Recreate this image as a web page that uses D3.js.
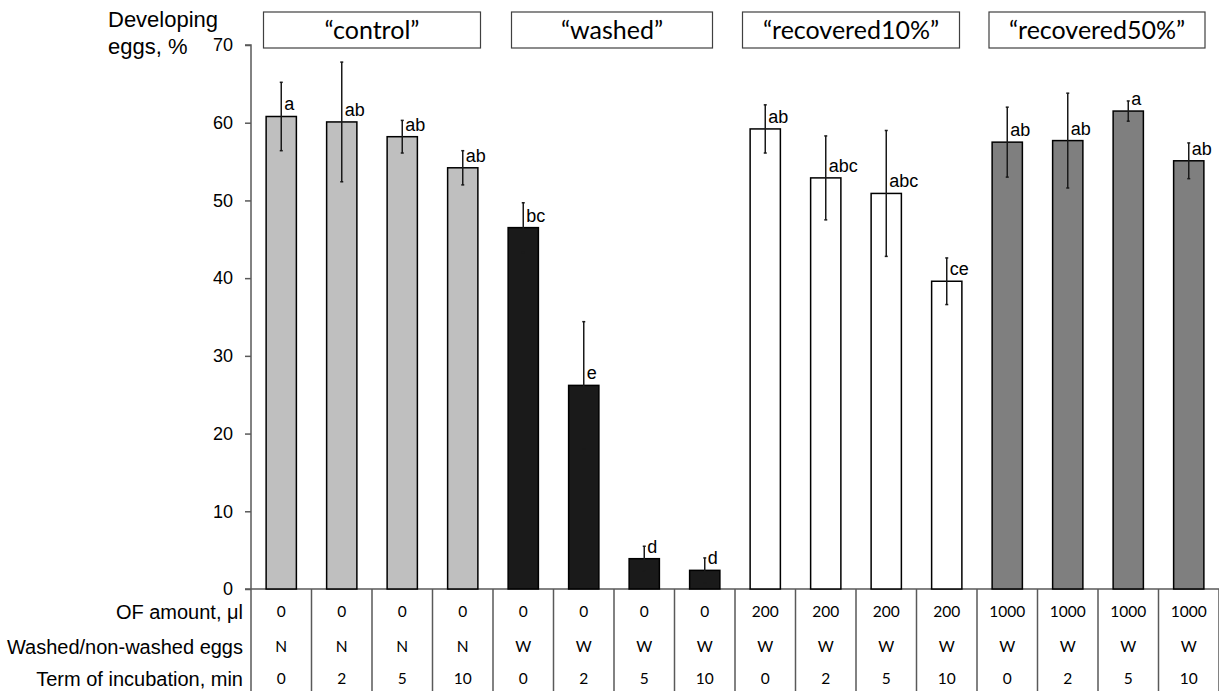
<!DOCTYPE html>
<html><head><meta charset="utf-8">
<script src="https://cdn.jsdelivr.net/npm/d3@7"></script>
<style>body{margin:0;background:#fff}svg{display:block}</style>
</head><body>
<svg id="chart" width="1219" height="691"></svg>
<script>
// ---- data ----
const groups = ["\u201Ccontrol\u201D", "\u201Cwashed\u201D", "\u201Crecovered10%\u201D", "\u201Crecovered50%\u201D"];
const groupOfBar = [0,0,0,0, 1,1,1,1, 2,2,2,2, 3,3,3,3];
const values = [60.8, 60.1, 58.2, 54.2, 46.5, 26.2, 3.9, 2.4, 59.2, 52.9, 50.9, 39.6, 57.5, 57.7, 61.5, 55.1];
const errors = [4.4, 7.7, 2.1, 2.2, 3.2, 8.2, 1.6, 1.6, 3.1, 5.4, 8.1, 3.0, 4.5, 6.1, 1.3, 2.3];
const letters = ["a","ab","ab","ab","bc","e","d","d","ab","abc","abc","ce","ab","ab","a","ab"];
const ofAmount = ["0","0","0","0","0","0","0","0","200","200","200","200","1000","1000","1000","1000"];
const washed = ["N","N","N","N","W","W","W","W","W","W","W","W","W","W","W","W"];
const term = ["0","2","5","10","0","2","5","10","0","2","5","10","0","2","5","10"];
const rowLabels = ["OF amount, \u03BCl", "Washed/non-washed eggs", "Term of incubation, min"];
const yTicks = [0,10,20,30,40,50,60,70];
const groupColors = ["#bfbfbf", "#1a1a1a", "#ffffff", "#7f7f7f"];

// ---- layout ----
const svg = d3.select("#chart");
const x0 = 251, x1 = 1219, yTop = 45, yBase = 589;
const x = d3.scaleBand().domain(d3.range(values.length)).range([x0, x1]).paddingInner(0.5).paddingOuter(0.25);
const y = d3.scaleLinear().domain([0, 70]).range([yBase, yTop]);
const axisColor = "#595959";
const sans = "'Liberation Sans', Arial, sans-serif";
const cal = "Lato, 'Open Sans', sans-serif";

// y axis
const yAxis = d3.axisLeft(y).tickValues(yTicks).tickSize(6).tickPadding(12);
const gy = svg.append("g").attr("transform", `translate(${x0},0)`).call(yAxis);
gy.select(".domain").attr("stroke", axisColor).attr("stroke-width", 1.5).attr("d", `M-6,${yTop}H0V${yBase}`);
gy.selectAll(".tick line").attr("stroke", axisColor).attr("stroke-width", 1.5);
gy.selectAll(".tick text").attr("font-family", sans).attr("font-size", 18).attr("fill", "#000");

// title
const title = svg.append("text").attr("font-family", sans).attr("font-size", 22).attr("fill", "#000");
title.append("tspan").attr("x", 108).attr("y", 27).text("Developing");
title.append("tspan").attr("x", 108).attr("y", 54).text("eggs, %");

// baseline / table top
svg.append("line").attr("x1", x0 - 6).attr("x2", x1).attr("y1", yBase).attr("y2", yBase)
  .attr("stroke", axisColor).attr("stroke-width", 1.5);

// bars
const idx = d3.range(values.length);
svg.append("g").selectAll("rect").data(idx).join("rect")
  .attr("x", i => x(i)).attr("width", x.bandwidth())
  .attr("y", i => y(values[i])).attr("height", i => y(0) - y(values[i]))
  .attr("fill", i => groupColors[groupOfBar[i]])
  .attr("stroke", "#000").attr("stroke-width", 1.5);

// error bars
const eb = svg.append("g").attr("stroke", "#1a1a1a").attr("stroke-width", 1.5);
idx.forEach(i => {
  const cx = x(i) + x.bandwidth() / 2;
  const top = y(values[i] + errors[i]), bot = y(values[i] - errors[i]);
  eb.append("line").attr("x1", cx).attr("x2", cx).attr("y1", top).attr("y2", bot);
  eb.append("line").attr("x1", cx - 1.5).attr("x2", cx + 1.5).attr("y1", top).attr("y2", top);
  eb.append("line").attr("x1", cx - 1.5).attr("x2", cx + 1.5).attr("y1", bot).attr("y2", bot);
});

// letters
svg.append("g").selectAll("text").data(idx).join("text")
  .attr("x", i => x(i) + x.bandwidth() / 2 + 3)
  .attr("y", i => y(values[i]) - 6)
  .attr("font-family", sans).attr("font-size", 18).attr("fill", "#000")
  .text(i => letters[i]);

// group header boxes
const boxW = [217, 201, 217, 216];
const boxShift = [0, -2, -5, -1];
groups.forEach((g, k) => {
  const members = idx.filter(i => groupOfBar[i] === k);
  const left = x(members[0]), right = x(members[members.length - 1]) + x.bandwidth();
  const cx = (left + right) / 2 + boxShift[k];
  svg.append("rect").attr("x", cx - boxW[k] / 2).attr("y", 12).attr("width", boxW[k]).attr("height", 36)
    .attr("fill", "#fff").attr("stroke", "#404040").attr("stroke-width", 1.2);
  svg.append("text").attr("x", cx).attr("y", 39).attr("text-anchor", "middle")
    .attr("font-family", cal).attr("font-size", 25).attr("fill", "#000").text(g);
});

// table
const step = x.step();
const tbl = svg.append("g");
d3.range(values.length + 1).forEach(k => {
  const bx = x0 + k * step;
  tbl.append("line").attr("x1", bx).attr("x2", bx).attr("y1", yBase).attr("y2", 691)
    .attr("stroke", axisColor).attr("stroke-width", 1.5);
});
const rows = [ofAmount, washed, term];
const rowY = [612, 647, 679];
rows.forEach((r, ri) => {
  tbl.append("g").selectAll("text").data(idx).join("text")
    .attr("x", i => x(i) + x.bandwidth() / 2).attr("y", rowY[ri]).attr("dy", "0.35em")
    .attr("text-anchor", "middle").attr("font-family", cal).attr("font-size", 15.5).attr("fill", "#000")
    .text(i => r[i]);
  tbl.append("text").attr("x", 243).attr("y", rowY[ri]).attr("dy", "0.35em")
    .attr("text-anchor", "end").attr("font-family", sans).attr("font-size", 20).attr("fill", "#000")
    .text(rowLabels[ri]);
});
</script>
</body></html>
